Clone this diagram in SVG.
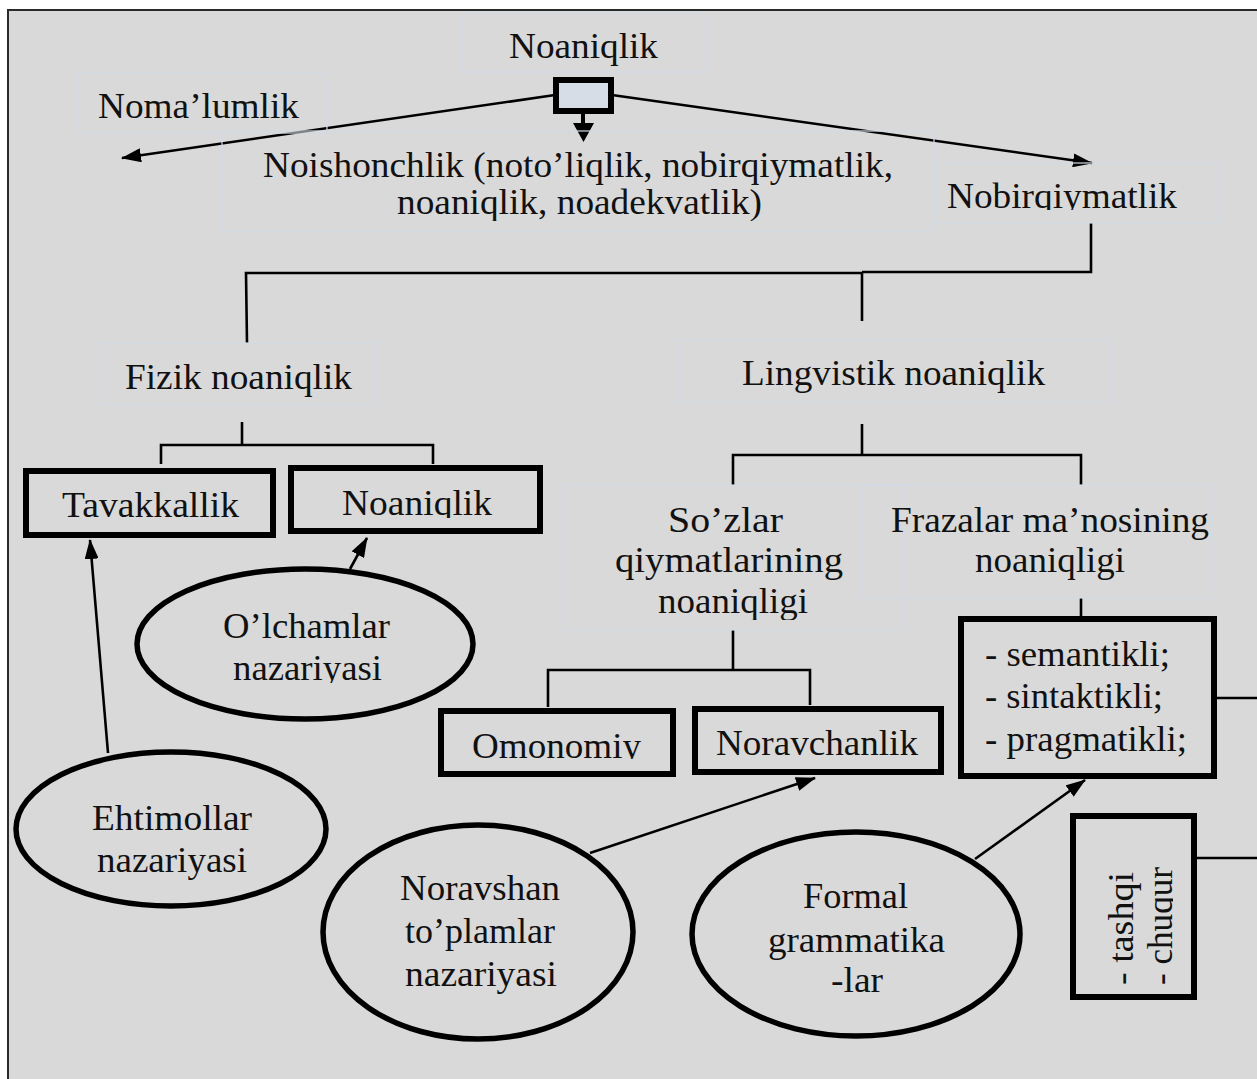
<svg xmlns="http://www.w3.org/2000/svg" width="1257" height="1079" viewBox="0 0 1257 1079">
<style>
  text { font-family: "Liberation Serif", "Times New Roman", Times, serif; font-size: 36px; fill: #111; }
  .lbox { fill: none; stroke: #d2dae4; stroke-width: 1.2; }
  .tbox { fill: none; stroke: #000; stroke-width: 6; }
  .ell { fill: none; stroke: #000; stroke-width: 5.5; }
  .ln { fill: none; stroke: #000; stroke-width: 2.6; }
  .ar { fill: none; stroke: #000; stroke-width: 2.6; marker-end: url(#ah); }
</style>
<defs>
  <marker id="ah" markerUnits="userSpaceOnUse" markerWidth="20" markerHeight="14" refX="19" refY="7" orient="auto">
    <path d="M0,0 L20,7 L0,14 z" fill="#000"/>
  </marker>
  <clipPath id="cNoish"><rect x="200" y="120" width="760" height="101"/></clipPath>
  <clipPath id="cNobir"><rect x="930" y="160" width="300" height="50"/></clipPath>
  <clipPath id="cNoan"><rect x="290" y="460" width="260" height="58"/></clipPath>
  <clipPath id="cOmon"><rect x="440" y="700" width="240" height="59"/></clipPath>
  <clipPath id="cSoz"><rect x="560" y="480" width="350" height="140"/></clipPath>
  <clipPath id="cOlch"><rect x="130" y="560" width="340" height="123"/></clipPath>
  <clipPath id="cForm"><rect x="680" y="820" width="350" height="175"/></clipPath>
  <clipPath id="cTash"><rect x="1076" y="816" width="97" height="178"/></clipPath>
</defs>

<rect x="0" y="0" width="1257" height="1079" fill="#ffffff"/>
<rect x="8" y="10" width="1260" height="1080" fill="#d9d9d9" stroke="#2a2a2a" stroke-width="2"/>

<g id="connectors">
  <line class="ar" x1="555" y1="95" x2="122" y2="158"/>
  <line class="ar" x1="612" y1="95" x2="1092" y2="163"/>
  <rect x="581" y="112" width="4" height="12" fill="#000"/>
  <path d="M573,123 L594,123 L583.5,142 z" fill="#000"/>
  <polyline class="ln" points="1091,223 1091,272 862,272"/>
  <polyline class="ln" points="862,273 246,273 247,343"/>
  <line class="ln" x1="862" y1="272" x2="862" y2="321"/>
  <line class="ln" x1="242" y1="422" x2="242" y2="445"/>
  <polyline class="ln" points="161,464 161,445 433,445 433,464"/>
  <line class="ln" x1="862" y1="424" x2="862" y2="455"/>
  <polyline class="ln" points="733,485 733,455 1081,455 1081,485"/>
  <line class="ln" x1="1081" y1="598" x2="1081" y2="618"/>
  <line class="ln" x1="733" y1="630" x2="733" y2="670"/>
  <polyline class="ln" points="548,707 548,670 810,670 810,705"/>
  <line class="ln" x1="1217" y1="698" x2="1257" y2="698"/>
  <line class="ln" x1="1197" y1="858" x2="1257" y2="858"/>
  <line class="ar" x1="108" y1="753" x2="90" y2="540"/>
  <line class="ar" x1="350" y1="569" x2="367" y2="538"/>
  <line class="ar" x1="590" y1="853" x2="815" y2="778"/>
  <line class="ar" x1="975" y1="859" x2="1085" y2="780"/>
</g>

<g id="n-noaniqlik-top">
  <rect class="lbox" x="462" y="13" width="244" height="59"/>
  <text x="509" y="58" textLength="149" lengthAdjust="spacingAndGlyphs">Noaniqlik</text>
</g>
<g id="n-hub">
  <rect x="556" y="80" width="55" height="31" fill="#d6dde6" stroke="#000" stroke-width="6"/>
</g>
<g id="n-nomalumlik">
  <rect class="lbox" x="78" y="73" width="249" height="60"/>
  <text x="98" y="118" textLength="201" lengthAdjust="spacingAndGlyphs">Noma’lumlik</text>
</g>
<g id="n-noishonchlik">
  <rect class="lbox" x="222" y="131" width="712" height="100"/>
  <g clip-path="url(#cNoish)">
    <text x="263" y="177" textLength="630" lengthAdjust="spacingAndGlyphs">Noishonchlik (noto’liqlik, nobirqiymatlik,</text>
    <text x="397" y="214" textLength="365" lengthAdjust="spacingAndGlyphs">noaniqlik, noadekvatlik)</text>
  </g>
</g>
<g id="n-nobirqiymatlik">
  <rect class="lbox" x="934" y="163" width="284" height="60"/>
  <text x="947" y="208" textLength="230" lengthAdjust="spacingAndGlyphs" clip-path="url(#cNobir)">Nobirqiymatlik</text>
</g>
<g id="n-fizik">
  <rect class="lbox" x="100" y="343" width="276" height="62"/>
  <text x="125" y="389" textLength="227" lengthAdjust="spacingAndGlyphs">Fizik noaniqlik</text>
</g>
<g id="n-lingvistik">
  <rect class="lbox" x="678" y="340" width="432" height="62"/>
  <text x="742" y="385" textLength="303" lengthAdjust="spacingAndGlyphs">Lingvistik noaniqlik</text>
</g>
<g id="n-tavakkallik">
  <rect class="tbox" x="26" y="471" width="247" height="64"/>
  <text x="62" y="517" textLength="177" lengthAdjust="spacingAndGlyphs">Tavakkallik</text>
</g>
<g id="n-noaniqlik2">
  <rect class="tbox" x="291" y="468" width="249" height="63"/>
  <text x="342" y="515" textLength="150" lengthAdjust="spacingAndGlyphs" clip-path="url(#cNoan)">Noaniqlik</text>
</g>
<g id="n-olchamlar">
  <ellipse class="ell" cx="305" cy="644" rx="168" ry="75"/>
  <g clip-path="url(#cOlch)">
    <text x="223" y="638" textLength="167" lengthAdjust="spacingAndGlyphs">O’lchamlar</text>
    <text x="233" y="680" textLength="149" lengthAdjust="spacingAndGlyphs">nazariyasi</text>
  </g>
</g>
<g id="n-sozlar">
  <rect class="lbox" x="563" y="485" width="342" height="145"/>
  <g clip-path="url(#cSoz)">
    <text x="668" y="532" textLength="115" lengthAdjust="spacingAndGlyphs">So’zlar</text>
    <text x="615" y="572" textLength="228" lengthAdjust="spacingAndGlyphs">qiymatlarining</text>
    <text x="658" y="613" textLength="150" lengthAdjust="spacingAndGlyphs">noaniqligi</text>
  </g>
</g>
<g id="n-frazalar">
  <rect class="lbox" x="862" y="485" width="350" height="113"/>
  <text x="891" y="532" textLength="318" lengthAdjust="spacingAndGlyphs">Frazalar ma’nosining</text>
  <text x="975" y="572" textLength="150" lengthAdjust="spacingAndGlyphs">noaniqligi</text>
</g>
<g id="n-semantikli">
  <rect class="tbox" x="961" y="619" width="253" height="157"/>
  <text x="985" y="666" textLength="185" lengthAdjust="spacingAndGlyphs">- semantikli;</text>
  <text x="985" y="708" textLength="178" lengthAdjust="spacingAndGlyphs">- sintaktikli;</text>
  <text x="985" y="751" textLength="202" lengthAdjust="spacingAndGlyphs">- pragmatikli;</text>
</g>
<g id="n-omonomiy">
  <rect class="tbox" x="441" y="711" width="232" height="63"/>
  <text x="472" y="758" textLength="169" lengthAdjust="spacingAndGlyphs" clip-path="url(#cOmon)">Omonomiy</text>
</g>
<g id="n-noravchanlik">
  <rect class="tbox" x="695" y="709" width="246" height="63"/>
  <text x="716" y="755" textLength="202" lengthAdjust="spacingAndGlyphs">Noravchanlik</text>
</g>
<g id="n-ehtimollar">
  <ellipse class="ell" cx="171" cy="829" rx="155" ry="77"/>
  <text x="92" y="830" textLength="160" lengthAdjust="spacingAndGlyphs">Ehtimollar</text>
  <text x="97" y="872" textLength="150" lengthAdjust="spacingAndGlyphs">nazariyasi</text>
</g>
<g id="n-noravshan">
  <ellipse class="ell" cx="478" cy="932" rx="155" ry="107"/>
  <text x="400" y="900" textLength="160" lengthAdjust="spacingAndGlyphs">Noravshan</text>
  <text x="405" y="943" textLength="150" lengthAdjust="spacingAndGlyphs">to’plamlar</text>
  <text x="405" y="986" textLength="152" lengthAdjust="spacingAndGlyphs">nazariyasi</text>
</g>
<g id="n-formal">
  <ellipse class="ell" cx="856" cy="934" rx="164" ry="102"/>
  <g clip-path="url(#cForm)">
    <text x="803" y="908" textLength="105" lengthAdjust="spacingAndGlyphs">Formal</text>
    <text x="768" y="952" textLength="177" lengthAdjust="spacingAndGlyphs">grammatika</text>
    <text x="831" y="992" textLength="52" lengthAdjust="spacingAndGlyphs">-lar</text>
  </g>
</g>
<g id="n-tashqi">
  <rect class="tbox" x="1073" y="816" width="121" height="181"/>
  <g clip-path="url(#cTash)">
    <text transform="translate(1133,985) rotate(-90)" textLength="113" lengthAdjust="spacingAndGlyphs">- tashqi</text>
    <text transform="translate(1172,985) rotate(-90)" textLength="118" lengthAdjust="spacingAndGlyphs">- chuqur</text>
  </g>
</g>
</svg>
